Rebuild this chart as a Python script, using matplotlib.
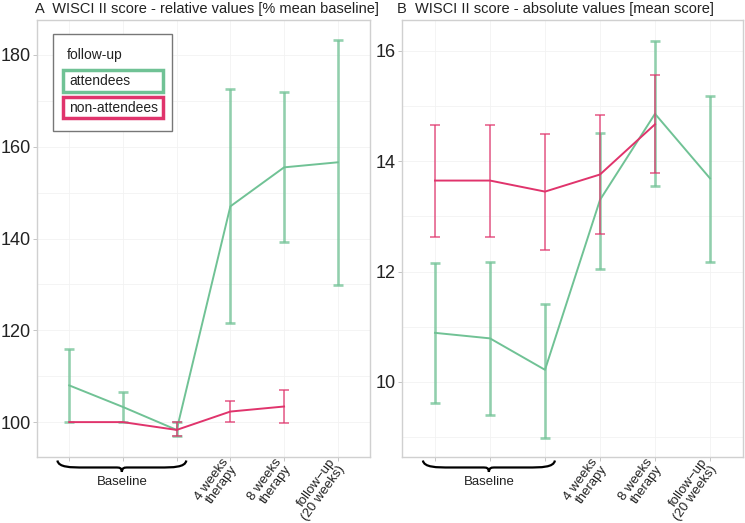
import numpy as np
import matplotlib
matplotlib.use("Agg")
import matplotlib.pyplot as plt
from matplotlib.path import Path
from matplotlib.patches import PathPatch, Rectangle
import matplotlib.transforms as mtransforms

plt.rcParams['font.family'] = ['Liberation Sans', 'DejaVu Sans']

# time points (first three are baseline measurements)
timepoints = [0, 1, 2, 3, 4, 5]
tick_labels = ["", "", "", "4 weeks\ntherapy", "8 weeks\ntherapy", "follow\u2212up\n(20 weeks)"]

# A: relative values [% mean baseline]
rel_att_mean = [108.0, 103.3, 98.3, 147.0, 155.5, 156.6]
rel_att_lo = [100.0, 100.0, 97.0, 121.7, 139.2, 129.8]
rel_att_hi = [115.9, 106.6, 100.0, 172.5, 172.0, 183.3]
rel_non_mean = [100.0, 100.0, 98.3, 102.3, 103.4]
rel_non_lo = [np.nan, np.nan, 97.0, 100.0, 99.7]
rel_non_hi = [np.nan, np.nan, 100.0, 104.6, 107.0]

# B: absolute values [mean score]
abs_att_mean = [10.89, 10.79, 10.22, 13.30, 14.86, 13.69]
abs_att_lo = [9.62, 9.41, 8.99, 12.04, 13.55, 12.18]
abs_att_hi = [12.16, 12.18, 11.41, 14.52, 16.18, 15.18]
abs_non_mean = [13.65, 13.65, 13.45, 13.76, 14.67]
abs_non_lo = [12.63, 12.63, 12.39, 12.68, 13.79]
abs_non_hi = [14.66, 14.66, 14.50, 14.84, 15.56]

GREEN = '#70C295'
PINK = '#E0346C'

W, H = 745, 523
fig = plt.figure(figsize=(W / 100, H / 100), dpi=100)


def px_axes(x0, x1, y0, y1):
    return fig.add_axes([x0 / W, 1 - y1 / H, (x1 - x0) / W, (y1 - y0) / H])


def draw_series(ax, mean, lo, hi, color, lw_bar, z):
    x = np.array(timepoints[:len(mean)])
    mean = np.array(mean)
    lo = np.array(lo)
    hi = np.array(hi)
    ok = ~np.isnan(lo)
    ax.errorbar(x[ok], mean[ok], yerr=[mean[ok] - lo[ok], hi[ok] - mean[ok]],
                fmt='none', ecolor=color, elinewidth=lw_bar, capsize=3.5,
                capthick=lw_bar, alpha=0.75, zorder=z)
    ax.plot(x, mean, color=color, lw=1.4, zorder=z + 0.5)


def style(ax, ylim, yticks, minor):
    ax.set_xlim(-0.6, 5.6)
    ax.set_ylim(*ylim)
    ax.set_yticks(yticks)
    ax.set_yticks(minor, minor=True)
    ax.set_xticks(timepoints)
    ax.set_xticklabels(tick_labels, rotation=54, ha='right', va='center',
                       rotation_mode='anchor', fontsize=9.5, color='#222222',
                       linespacing=0.9)
    shift = mtransforms.ScaledTranslation(5 / 100, 0, fig.dpi_scale_trans)
    for lab in ax.get_xticklabels():
        lab.set_transform(lab.get_transform() + shift)
    ax.tick_params(axis='y', labelsize=13, colors='#BBBBBB', labelcolor='#222222',
                   length=3, width=0.6, pad=1.5)
    ax.tick_params(axis='x', colors='#BBBBBB', labelcolor='#222222', length=3,
                   width=0.6, pad=1.5)
    ax.tick_params(which='minor', length=0)
    ax.grid(True, which='both', color='#F2F2F2', lw=0.6)
    ax.set_axisbelow(True)
    for s in ax.spines.values():
        s.set_color('#D0D0D0')
        s.set_linewidth(1.0)
    # brace under baseline points
    trans = mtransforms.blended_transform_factory(ax.transData, ax.transAxes)
    xl, xr, xm = -0.22, 2.18, 0.98
    yt, ym, yb = -0.008, -0.024, -0.034
    verts = [(xl, yt), (xl + 0.02, ym), (xl + 0.25, ym), (xl + 0.5, ym),
             (xm - 0.12, ym),
             (xm - 0.04, ym), (xm - 0.01, ym), (xm, yb),
             (xm + 0.01, ym), (xm + 0.04, ym), (xm + 0.12, ym),
             (xr - 0.5, ym),
             (xr - 0.25, ym), (xr - 0.02, ym), (xr, yt)]
    codes = [Path.MOVETO, Path.CURVE4, Path.CURVE4, Path.CURVE4,
             Path.LINETO,
             Path.CURVE4, Path.CURVE4, Path.CURVE4,
             Path.CURVE4, Path.CURVE4, Path.CURVE4,
             Path.LINETO,
             Path.CURVE4, Path.CURVE4, Path.CURVE4]
    ax.add_patch(PathPatch(Path(verts, codes), facecolor='none', edgecolor='black',
                           lw=1.6, transform=trans, clip_on=False))
    ax.text(xm, -0.058, "Baseline", transform=trans, ha='center', va='center',
            fontsize=9.5, color='#222222')


# Panel A
axA = px_axes(37, 370, 20, 457)
draw_series(axA, rel_att_mean, rel_att_lo, rel_att_hi, GREEN, 1.9, 2)
draw_series(axA, rel_non_mean, rel_non_lo, rel_non_hi, PINK, 1.2, 3)
style(axA, (92.4, 187.6), [100, 120, 140, 160, 180], [110, 130, 150, 170])
fig.text(35 / W, 1 - 9 / H, "A  WISCI II score - relative values [% mean baseline]",
         fontsize=10.5, ha='left', va='center', color='#222222')

# Panel B
axB = px_axes(402, 743, 20, 457)
draw_series(axB, abs_att_mean, abs_att_lo, abs_att_hi, GREEN, 1.9, 2)
draw_series(axB, abs_non_mean, abs_non_lo, abs_non_hi, PINK, 1.2, 3)
style(axB, (8.64, 16.56), [10, 12, 14, 16], [9, 11, 13, 15])
fig.text(397 / W, 1 - 9 / H, "B  WISCI II score - absolute values [mean score]",
         fontsize=10.5, ha='left', va='center', color='#222222')

# legend drawn by hand in figure pixels
def fig_rect(x0, y0, x1, y1, ec, lw):
    fig.patches.append(Rectangle((x0 / W, 1 - y1 / H), (x1 - x0) / W, (y1 - y0) / H,
                                 transform=fig.transFigure, facecolor='white',
                                 edgecolor=ec, lw=lw, zorder=5))

fig_rect(53, 34, 172, 131, '#777777', 1.0)
fig_rect(63, 70, 163, 92, GREEN, 2.5)
fig_rect(63, 97, 163, 118, PINK, 2.5)
fig.text(67 / W, 1 - 55 / H, "follow-up", fontsize=10, va='center', ha='left', color='#222222', zorder=6)
fig.text(69 / W, 1 - 81 / H, "attendees", fontsize=10, va='center', ha='left', color='#222222', zorder=6)
fig.text(69 / W, 1 - 107.5 / H, "non-attendees", fontsize=10, va='center', ha='left', color='#222222', zorder=6)

fig.savefig("out.png", dpi=100)
